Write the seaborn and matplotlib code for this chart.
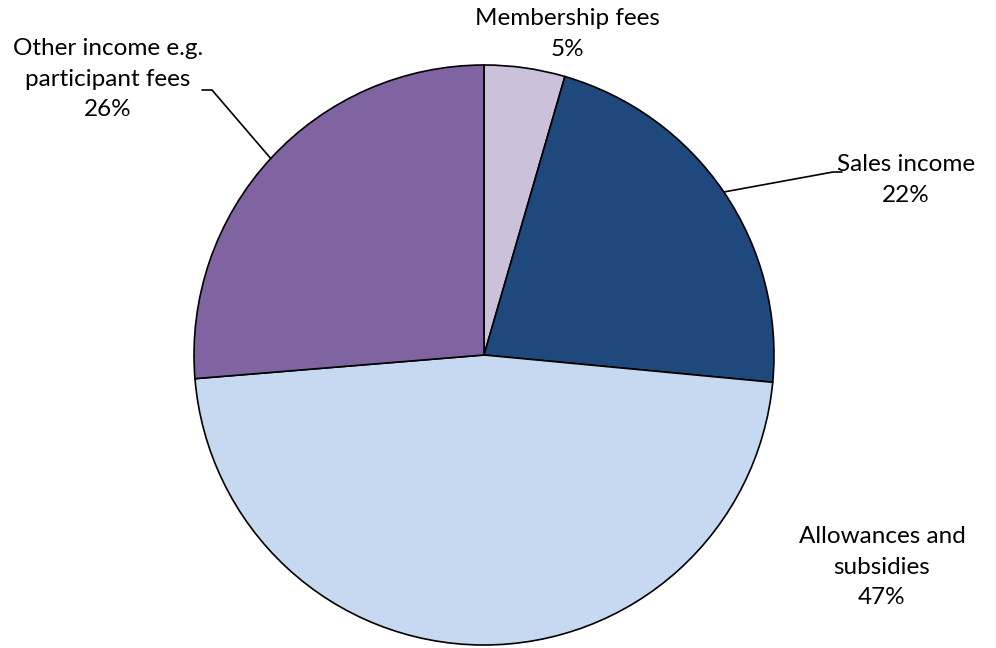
import math
import numpy as np
import matplotlib
matplotlib.use("Agg")
import matplotlib.pyplot as plt
import seaborn as sns

categories = ["Membership fees", "Sales income", "Allowances and\nsubsidies", "Other income e.g.\nparticipant fees"]
values = [4.5, 22.0, 47.2, 26.3]
colors = ["#CCC1DA", "#1F497D", "#C6D9F1", "#8064A2"]

sns.set_theme(style="white")
plt.rcParams["font.family"] = ["Lato", "DejaVu Sans"]

W, H, DPI = 996, 648, 100
fig = plt.figure(figsize=(W / DPI, H / DPI), dpi=DPI)
cx, cy, R = 484, 355, 290
ax = fig.add_axes([(cx - R) / W, (H - cy - R) / H, 2 * R / W, 2 * R / H])

wedges, _ = ax.pie(values, colors=colors, startangle=90, counterclock=False,
                   radius=1.0, wedgeprops=dict(edgecolor="black", linewidth=1.2))
ax.set_xlim(-1, 1)
ax.set_ylim(-1, 1)
ax.set_aspect("equal")
ax.axis("off")

def px(x, y):
    return ((x - cx) / R, (cy - y) / R)

total = sum(values)
labels = [f"{c}\n{math.floor(v / total * 100 + 0.5)}%" for c, v in zip(categories, values)]
label_pos = [px(567, 34), px(906, 180), px(882, 567), px(108, 79)]
for lab, (x, y) in zip(labels, label_pos):
    ax.text(x, y, lab, ha="center", va="center", fontsize=17.5, color="black",
            linespacing=1.55, clip_on=False)

# leader lines from wedge midpoints
leader = {1: [px(833, 172), px(842, 172)], 3: [px(212, 90), px(202, 90)]}
for i, pts in leader.items():
    w = wedges[i]
    mid = math.radians((w.theta1 + w.theta2) / 2)
    sx, sy = math.cos(mid), math.sin(mid)
    xs = [sx] + [p[0] for p in pts]
    ys = [sy] + [p[1] for p in pts]
    ax.plot(xs, ys, color="black", linewidth=1.2, clip_on=False)

fig.savefig("out.png", dpi=DPI, facecolor="white")
